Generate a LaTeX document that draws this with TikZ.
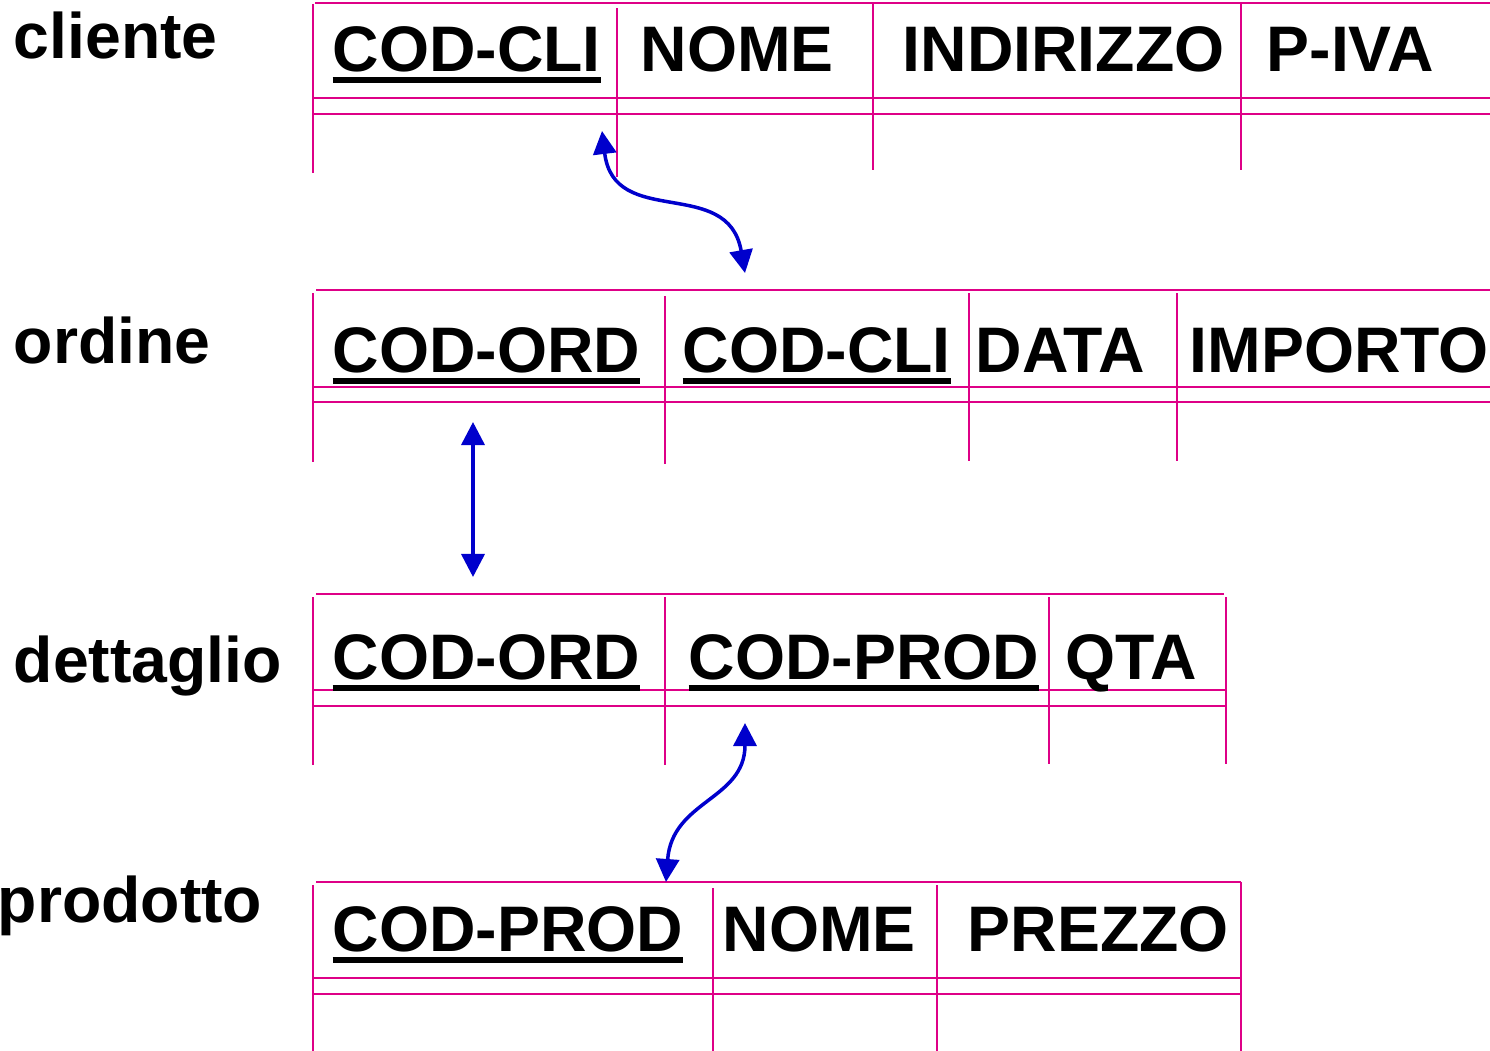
\documentclass[tikz,border=0pt]{standalone}
\usepackage{fontspec}
\setmainfont{Liberation Sans}
\usetikzlibrary{arrows.meta}
\definecolor{schemaMagenta}{RGB}{222,0,135}
\definecolor{schemaBlue}{RGB}{0,0,204}
\colorlet{griglia}{schemaMagenta}
\colorlet{legame}{schemaBlue}
\newcommand{\chiave}[1]{\setbox0\hbox{#1}\rlap{\rule[-0.12cm]{\wd0}{0.06cm}}\box0}

\begin{document}
\begin{tikzpicture}[x=0.01cm,y=-0.01cm,
  font=\fontsize{18.3}{20}\selectfont\bfseries,
  attr/.style={anchor=base west,inner sep=0pt},
  tab/.style={draw=griglia,line width=0.75pt},
  fk/.style={draw=legame,line width=1pt,{Triangle[length=0.23cm,width=0.23cm]}-{Triangle[length=0.23cm,width=0.23cm]}}]
\useasboundingbox (0,0) rectangle (1490,1051);

% cliente
\node[attr] (lbl-cli) at (13,58) {cliente};
\draw[tab] (315,3) -- (1490,3);
\draw[tab] (313,4) -- (313,173);
\draw[tab] (313,98) -- (1490,98);
\draw[tab] (313,114) -- (1490,114);
\draw[tab] (617,8) -- (617,177);
\draw[tab] (873,3) -- (873,170);
\draw[tab] (1241,3) -- (1241,170);
\node[attr] (cli-cod) at (332,71) {\chiave{COD-CLI}};
\node[attr] (cli-nome) at (640,71) {NOME};
\node[attr] (cli-ind) at (902,71) {INDIRIZZO};
\node[attr] (cli-piva) at (1266,71) {P-IVA};

% ordine
\node[attr] (lbl-ord) at (13,363) {ordine};
\draw[tab] (316,290) -- (1490,290);
\draw[tab] (313,293) -- (313,462);
\draw[tab] (313,387) -- (1490,387);
\draw[tab] (313,402) -- (1490,402);
\draw[tab] (665,296) -- (665,464);
\draw[tab] (969,293) -- (969,461);
\draw[tab] (1177,293) -- (1177,461);
\node[attr] (ord-cod) at (332,372) {\chiave{COD-ORD}};
\node[attr] (ord-cli) at (682,372) {\chiave{COD-CLI}};
\node[attr] (ord-data) at (975,372) {DATA};
\node[attr] (ord-imp) at (1189,372) {IMPORTO};

% dettaglio
\node[attr] (lbl-det) at (13,682) {dettaglio};
\draw[tab] (316,594) -- (1224,594);
\draw[tab] (313,597) -- (313,765);
\draw[tab] (313,690) -- (1226,690);
\draw[tab] (313,706) -- (1226,706);
\draw[tab] (665,597) -- (665,765);
\draw[tab] (1049,597) -- (1049,764);
\draw[tab] (1226,597) -- (1226,764);
\node[attr] (det-ord) at (332,679) {\chiave{COD-ORD}};
\node[attr] (det-prod) at (688,679) {\chiave{COD-PROD}};
\node[attr] (det-qta) at (1065,679) {QTA};

% prodotto
\node[attr] (lbl-prod) at (-3,922) {prodotto};
\draw[tab] (316,882) -- (1241,882);
\draw[tab] (313,885) -- (313,1051);
\draw[tab] (313,978) -- (1241,978);
\draw[tab] (313,994) -- (1241,994);
\draw[tab] (713,888) -- (713,1051);
\draw[tab] (937,885) -- (937,1051);
\draw[tab] (1241,882) -- (1241,1051);
\node[attr] (prod-cod) at (332,951) {\chiave{COD-PROD}};
\node[attr] (prod-nome) at (722,951) {NOME};
\node[attr] (prod-prezzo) at (967,951) {PREZZO};

% legami
\coordinate (cli-fk) at (602,131);
\coordinate (ord-fk) at (745,273);
\coordinate (ord-pk) at (473,422);
\coordinate (det-fk) at (473,577);
\coordinate (det-pfk) at (745,723);
\coordinate (prod-pk) at (666,882);
\draw[fk] (cli-fk) .. controls (614,230) and (728,175) .. (ord-fk);
\draw[fk] (ord-pk) -- (det-fk);
\draw[fk] (det-pfk) .. controls (745,800) and (672,800) .. (prod-pk);
\end{tikzpicture}
\end{document}
